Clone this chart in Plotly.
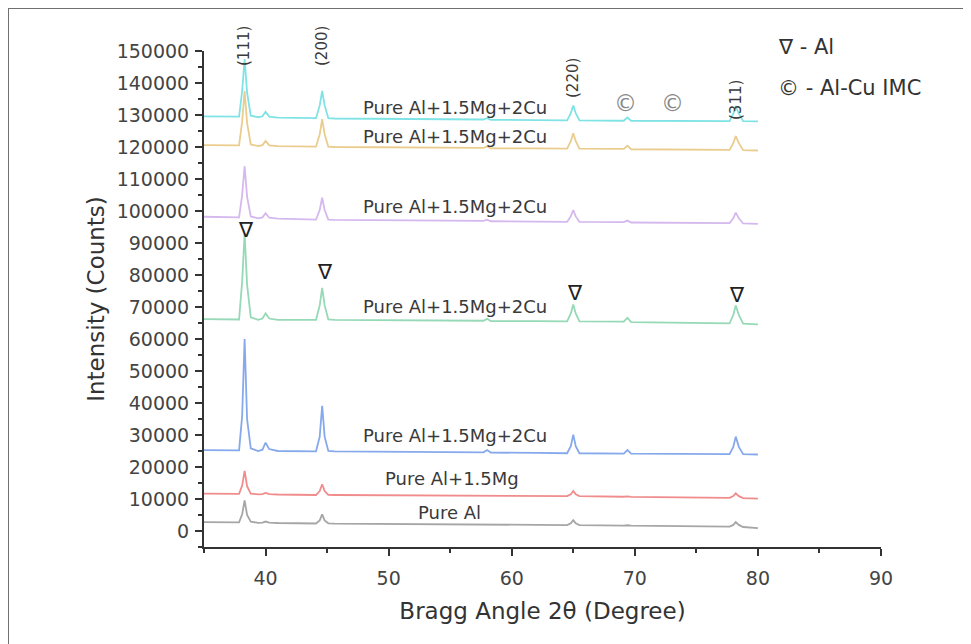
import plotly.graph_objects as go

# ---------------- data ----------------
two_theta = [35.0, 37.0, 37.85, 38.1, 38.3, 38.5, 38.8, 39.4, 39.75, 40.0, 40.3, 41.0,
             44.1, 44.4, 44.6, 44.8, 45.1, 45.6, 50.0, 57.7, 58.0, 58.3, 62.0,
             64.5, 64.8, 65.0, 65.2, 65.5, 69.1, 69.4, 69.7, 74.0,
             77.7, 78.0, 78.2, 78.45, 78.8, 80.0]

pure_al = [2800, 2650, 2700, 5200, 9600, 5000, 2900, 2550, 2600, 2950, 2600, 2500,
           2350, 3300, 5200, 3300, 2400, 2300, 2200, 2000, 2150, 1950, 1900,
           1850, 2400, 3400, 2400, 1850, 1700, 1800, 1650, 1500,
           1350, 1900, 2800, 1900, 1250, 900]

al_mg = [11700, 11550, 11600, 14200, 18800, 14000, 11700, 11450, 11500, 11900, 11500, 11400,
         11250, 12500, 14600, 12500, 11300, 11250, 11150, 11000, 11150, 10950, 10950,
         10900, 11500, 12500, 11500, 10900, 10700, 10800, 10650, 10500,
         10350, 10900, 11800, 10900, 10300, 10100]

al_mg_cu_1 = [25300, 25100, 25200, 36000, 60000, 35000, 25800, 25000, 25400, 27600, 25600, 25000,
              24900, 29500, 39100, 29500, 25000, 24900, 24800, 24600, 25300, 24500, 24400,
              24300, 26500, 30100, 26500, 24300, 24200, 25300, 24200, 24100,
              24000, 26300, 29500, 26300, 24000, 23900]

al_mg_cu_2 = [66200, 66000, 66100, 78000, 93000, 77000, 66800, 66000, 66400, 68000, 66400, 66000,
              66000, 70500, 76000, 70500, 66100, 66000, 65900, 65700, 66300, 65600, 65600,
              65500, 68000, 70800, 68000, 65500, 65400, 66600, 65300, 65100,
              64900, 67500, 70500, 67500, 64800, 64600]

al_mg_cu_3 = [98200, 97900, 98000, 105000, 114000, 104500, 98300, 97700, 98000, 99300, 97900, 97600,
              97300, 100300, 104200, 100300, 97300, 97200, 97100, 96900, 97300, 96800, 96700,
              96600, 98300, 100300, 98300, 96600, 96500, 97000, 96400, 96300,
              96200, 97700, 99500, 97700, 96100, 96000]

al_mg_cu_4 = [120600, 120400, 120500, 128000, 137500, 127500, 120800, 120300, 120600, 121900, 120500, 120300,
              120100, 124000, 128700, 124000, 120100, 120000, 119900, 119700, 120200, 119600, 119600,
              119500, 121800, 124300, 121800, 119500, 119400, 120400, 119300, 119200,
              119100, 121200, 123400, 121200, 119000, 118900]

al_mg_cu_5 = [129600, 129400, 129500, 137500, 147500, 137000, 129800, 129300, 129600, 131000, 129500, 129200,
              129000, 133000, 137500, 133000, 129000, 128900, 128800, 128600, 129000, 128500, 128400,
              128300, 130600, 133000, 130600, 128300, 128200, 129200, 128200, 128200,
              128100, 130400, 132800, 130400, 128100, 128000]

series_names = ["Pure Al", "Pure Al+1.5Mg", "Pure Al+1.5Mg+2Cu", "Pure Al+1.5Mg+2Cu",
                "Pure Al+1.5Mg+2Cu", "Pure Al+1.5Mg+2Cu", "Pure Al+1.5Mg+2Cu"]
series_values = [pure_al, al_mg, al_mg_cu_1, al_mg_cu_2, al_mg_cu_3, al_mg_cu_4, al_mg_cu_5]

miller_labels = ["(111)", "(200)", "(220)", "(311)"]
x_ticks = [40, 50, 60, 70, 80, 90]
y_ticks = list(range(0, 150001, 10000))

# ---------------- layout / styling ----------------
colors = ["#a6a6a6", "#f08c8c", "#86a9ec", "#96d9b6", "#d4b8ee", "#e9cc8e", "#7fe3e6"]
FONT = "DejaVu Sans"
TXT = "#3a3a3a"

OFF = 8                      # page body offset
L, T, W, H = 196, 43, 677, 496
FIG_W, FIG_H = 971 - OFF, 644 - OFF


def px(xpage):
    return (xpage - OFF - L) / W


def py(ypage):
    return (T + H - (ypage - OFF)) / H


fig = go.Figure()
for name, ys, c in zip(series_names, series_values, colors):
    fig.add_trace(go.Scatter(x=two_theta, y=ys, mode="lines", name=name,
                             line=dict(color=c, width=1.8), showlegend=False))

annotations = []


def note(text, xp, yp, size, color=TXT, angle=0, xanchor="center"):
    annotations.append(dict(x=px(xp), y=py(yp), xref="paper", yref="paper", text=text,
                            showarrow=False, textangle=angle, xanchor=xanchor, yanchor="middle",
                            font=dict(family=FONT, size=size, color=color)))


# curve labels
label_pos = [(449, 512), (452, 478.5), (455, 435), (455, 306), (455, 206.5), (455, 137), (455, 107)]
for name, (lx, ly) in zip(series_names, label_pos):
    note(name, lx, ly, 18)

# Miller indices, rotated
for lab, (mx, my) in zip(miller_labels, [(244, 46), (322, 46), (573, 78), (736, 100)]):
    note(lab, mx, my, 15, angle=-90)

# Al triangles over the green pattern
for tx, ty in [(246, 230), (325, 272), (575, 293), (737, 295)]:
    note("∇", tx, ty, 21, color="#222222")

# Al-Cu IMC markers
for cx in [625, 672]:
    note("©", cx, 103, 23, color="#8a8a8a")

# phase key
note("∇ - Al", 776, 47, 21, color="#333333", xanchor="left")
note("© - Al-Cu IMC", 776, 88, 21, color="#333333", xanchor="left")

axis_common = dict(showline=True, linecolor="#333333", linewidth=2, ticks="outside",
                   ticklen=7, tickwidth=2, tickcolor="#333333", showgrid=False, zeroline=False,
                   mirror=False, tickfont=dict(family=FONT, size=19, color="#444444"))

fig.update_layout(
    width=FIG_W, height=FIG_H,
    margin=dict(l=L, r=FIG_W - L - W, t=T, b=FIG_H - T - H, autoexpand=False),
    paper_bgcolor="white", plot_bgcolor="white",
    annotations=annotations,
    xaxis=dict(range=[35, 90], tickvals=x_ticks, ticklabelstandoff=6,
               minor=dict(dtick=5, tick0=35, ticklen=4, tickwidth=1.5, tickcolor="#333333", ticks="outside"),
               title=dict(text="Bragg Angle 2θ (Degree)", font=dict(family=FONT, size=23, color="#333333"),
                          standoff=15),
               **axis_common),
    yaxis=dict(range=[-5000, 150000], tickvals=y_ticks, tickformat="d", ticklabelstandoff=2,
               minor=dict(dtick=5000, tick0=0, ticklen=4, tickwidth=1.5, tickcolor="#333333", ticks="outside"),
               title=dict(text="Intensity (Counts)", font=dict(family=FONT, size=23, color="#333333"),
                          standoff=6),
               **axis_common),
    shapes=[
        dict(type="line", xref="paper", yref="paper", x0=px(7), x1=px(980),
             y0=py(8), y1=py(8), line=dict(color="#707070", width=2)),
        dict(type="line", xref="paper", yref="paper", x0=px(8), x1=px(8),
             y0=py(8), y1=py(660), line=dict(color="#707070", width=2)),
    ],
)

fig.write_html("out.html")
